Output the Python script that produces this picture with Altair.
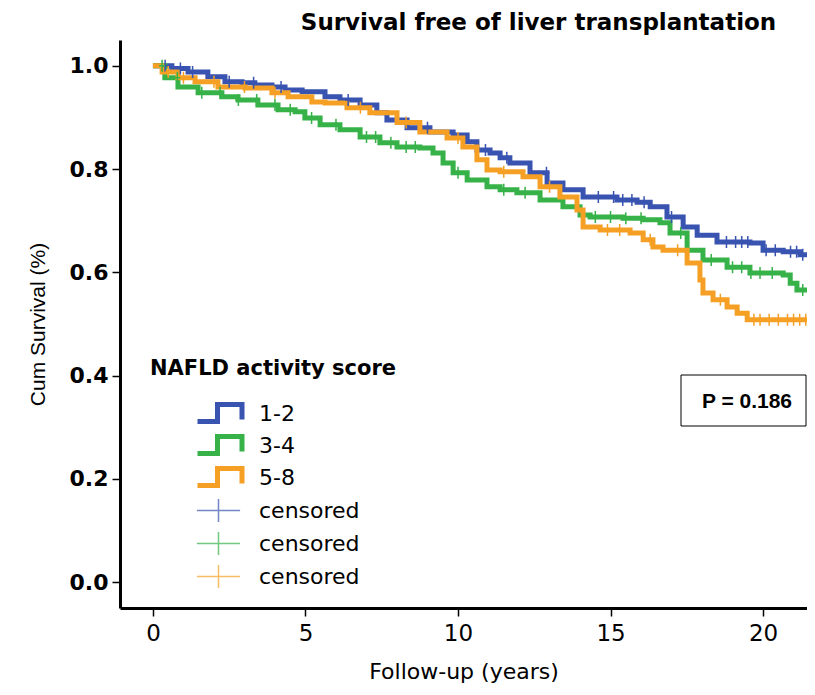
import altair as alt
import pandas as pd
import numpy as np

groups = ["1-2", "3-4", "5-8"]
colors = ["#3953b0", "#36b249", "#f5a024"]

# Kaplan-Meier step points (years, cumulative survival)
t_12 = [0, 0.62, 1.15, 1.80, 2.36, 2.92, 3.34, 3.90, 4.33, 4.89, 5.64, 6.13, 6.79, 7.34, 7.67, 8.33,
        9.08, 9.84, 10.30, 10.62, 11.05, 11.38, 11.70, 12.36, 12.92, 13.44, 14.10, 15.21, 15.87, 16.30,
        16.85, 17.38, 17.84, 18.49, 19.57, 20.0, 20.66, 21.21, 21.54, 21.8]
s_12 = [1.0, 0.995, 0.988, 0.979, 0.969, 0.967, 0.963, 0.959, 0.953, 0.950, 0.940, 0.934, 0.924, 0.909,
        0.895, 0.880, 0.872, 0.866, 0.853, 0.837, 0.831, 0.822, 0.812, 0.793, 0.773, 0.760, 0.746, 0.740,
        0.736, 0.727, 0.707, 0.688, 0.672, 0.659, 0.657, 0.643, 0.640, 0.634, 0.624, 0.620]

t_34 = [0, 0.39, 0.82, 1.48, 2.26, 2.79, 3.44, 4.10, 4.66, 4.98, 5.48, 6.13, 6.79, 7.44, 8.0, 8.75,
        9.18, 9.51, 9.84, 10.30, 10.95, 11.38, 11.93, 12.69, 13.44, 14.0, 14.33, 15.41, 16.07, 16.62,
        16.95, 17.51, 18.03, 18.82, 19.57, 20.66, 20.89, 21.11, 21.8]
s_34 = [1.0, 0.977, 0.959, 0.948, 0.940, 0.934, 0.924, 0.915, 0.911, 0.899, 0.886, 0.876, 0.862, 0.851,
        0.843, 0.841, 0.831, 0.812, 0.793, 0.779, 0.766, 0.760, 0.754, 0.740, 0.727, 0.711, 0.707, 0.705,
        0.702, 0.696, 0.676, 0.643, 0.624, 0.610, 0.599, 0.595, 0.579, 0.566, 0.562]

t_58 = [0, 0.30, 0.82, 1.38, 2.13, 3.02, 3.90, 4.43, 5.21, 5.64, 6.36, 7.11, 8.0, 8.75, 9.64, 10.16,
        10.62, 10.95, 11.38, 12.13, 12.69, 13.34, 13.90, 14.10, 14.66, 15.64, 16.07, 16.39, 16.72, 17.51,
        17.93, 18.03, 18.36, 18.82, 19.15, 19.48, 21.8]
s_58 = [1.0, 0.988, 0.977, 0.969, 0.959, 0.957, 0.948, 0.940, 0.930, 0.928, 0.919, 0.909, 0.890, 0.872,
        0.860, 0.843, 0.818, 0.798, 0.795, 0.785, 0.766, 0.746, 0.721, 0.688, 0.682, 0.676, 0.663, 0.649,
        0.643, 0.618, 0.585, 0.560, 0.547, 0.533, 0.521, 0.508, 0.505]

# censoring times (years)
c_12 = [0.4, 0.9, 1.3, 2.5, 3.3, 4.2, 6.4, 9.0, 10.9, 11.6, 12.9, 14.6, 15.1, 15.4, 15.7, 16.1, 17.0,
        18.8, 19.1, 19.3, 19.5, 20.1, 20.4, 20.9, 21.1, 21.3]
c_34 = [0.3, 0.8, 1.6, 2.2, 2.8, 3.4, 4.0, 4.5, 5.2, 6.0, 7.0, 7.3, 7.8, 8.3, 8.6, 10.0, 11.5, 12.2,
        14.5, 15.0, 15.5, 16.0, 17.3, 18.3, 19.0, 19.3, 19.6, 19.9, 20.3, 21.3]
c_58 = [0.5, 1.0, 2.0, 3.0, 4.0, 6.8, 8.3, 10.0, 11.5, 13.0, 14.9, 15.3, 16.3, 17.2, 18.6, 19.7, 19.9,
        20.2, 20.5, 20.8, 21.0, 21.2, 21.4]

p_text = ["P = 0.186"]

curves = []
cens = []
for g, tt, ss, cc in [("1-2", t_12, s_12, c_12), ("3-4", t_34, s_34, c_34), ("5-8", t_58, s_58, c_58)]:
    curves.append(pd.DataFrame({"t": tt, "s": ss, "g": g}))
    idx = np.searchsorted(np.array(tt), np.array(cc), side="right") - 1
    cens.append(pd.DataFrame({"t": cc, "s": np.array(ss)[idx], "g": g}))
curve_df = pd.concat(curves, ignore_index=True)
cens_df = pd.concat(cens, ignore_index=True)

x_scale = alt.Scale(domain=[-1.08, 21.44], nice=False, zero=False)
y_scale = alt.Scale(domain=[-0.05, 1.05], nice=False, zero=False)

x_enc = alt.X("t:Q", scale=x_scale,
              axis=alt.Axis(values=[0, 5, 10, 15, 20], format="d", title="Follow-up (years)",
                            labelFont="DejaVu Sans", labelFontSize=23, labelColor="black",
                            titleFont="DejaVu Sans", titleFontSize=22, titleFontWeight="normal",
                            titleColor="black", titlePadding=16, labelPadding=6))
y_enc = alt.Y("s:Q", scale=y_scale,
              axis=alt.Axis(values=[0, 0.2, 0.4, 0.6, 0.8, 1.0], format=".1f", title="Cum Survival (%)",
                            labelFont="DejaVu Sans", labelFontSize=22, labelFontWeight="bold",
                            labelColor="black", titleFont="Liberation Sans", titleFontSize=21,
                            titleFontWeight="normal", titleColor="black", titlePadding=21, labelPadding=4))

step_path = "M-2.3,0.8H-0.3V-0.9H2.15V0.6"
plus_path = "M-1.6,0H1.6M0,-0.85V0.85"

lines = alt.Chart(curve_df).mark_line(interpolate="step-after", strokeWidth=5, clip=True).encode(
    x=x_enc, y=y_enc,
    color=alt.Color("g:N", scale=alt.Scale(domain=groups, range=colors),
                    legend=alt.Legend(title="NAFLD activity score", orient="none", legendX=30, legendY=318,
                                      symbolType=step_path, symbolSize=400, symbolStrokeWidth=5,
                                      symbolOffset=58, labelOffset=26, rowPadding=-6, titlePadding=22,
                                      titleLimit=500, labelLimit=300,
                                      padding=0, labelFont="DejaVu Sans", labelFontSize=22,
                                      labelColor="black", titleFont="DejaVu Sans", titleFontSize=21,
                                      titleFontWeight="bold", titleColor="black")),
    order=alt.Order("t:Q"),
)

ticks = alt.Chart(cens_df).mark_point(shape="M-1,0H1M0,-2V2", size=36, strokeWidth=1.5, filled=False,
                                      opacity=1, clip=True).encode(
    x="t:Q", y="s:Q",
    color=alt.Color("g:N", scale=alt.Scale(domain=groups, range=colors),
                    legend=alt.Legend(title=None, orient="none", legendX=30, legendY=456,
                                      symbolType=plus_path, symbolSize=729, symbolStrokeWidth=1.5,
                                      symbolOpacity=0.7, symbolOffset=54, labelOffset=26, rowPadding=4,
                                      padding=0, labelExpr="'censored'", labelFont="DejaVu Sans",
                                      labelFontSize=22, labelColor="black")),
)

p_df = pd.DataFrame({"p": p_text})
box = alt.Chart(p_df).mark_rect(fill="white", stroke="black", strokeWidth=1).encode(
    x=alt.value(561), x2=alt.value(686), y=alt.value(335), y2=alt.value(386))
ptext = alt.Chart(p_df).mark_text(font="Liberation Sans", fontSize=21, fontWeight="bold", color="black",
                                  align="center", baseline="middle").encode(
    x=alt.value(627), y=alt.value(362), text="p:N")

chart = alt.layer(lines, ticks, box, ptext).resolve_scale(color="independent").properties(
    width=687, height=568,
    padding={"left": 112, "top": 32, "right": 0, "bottom": 79},
    autosize=alt.AutoSizeParams(type="none"),
    title=alt.TitleParams("Survival free of liver transplantation", font="DejaVu Sans", fontSize=23,
                          fontWeight="bold", anchor="middle", dx=75, offset=5, color="black"),
).configure_view(strokeWidth=0).configure_axis(
    grid=False, domainColor="black", domainWidth=3, tickColor="black", tickWidth=1.5, tickSize=8,
)

chart.save("out.html", embed_options={"renderer": "svg", "actions": False})
